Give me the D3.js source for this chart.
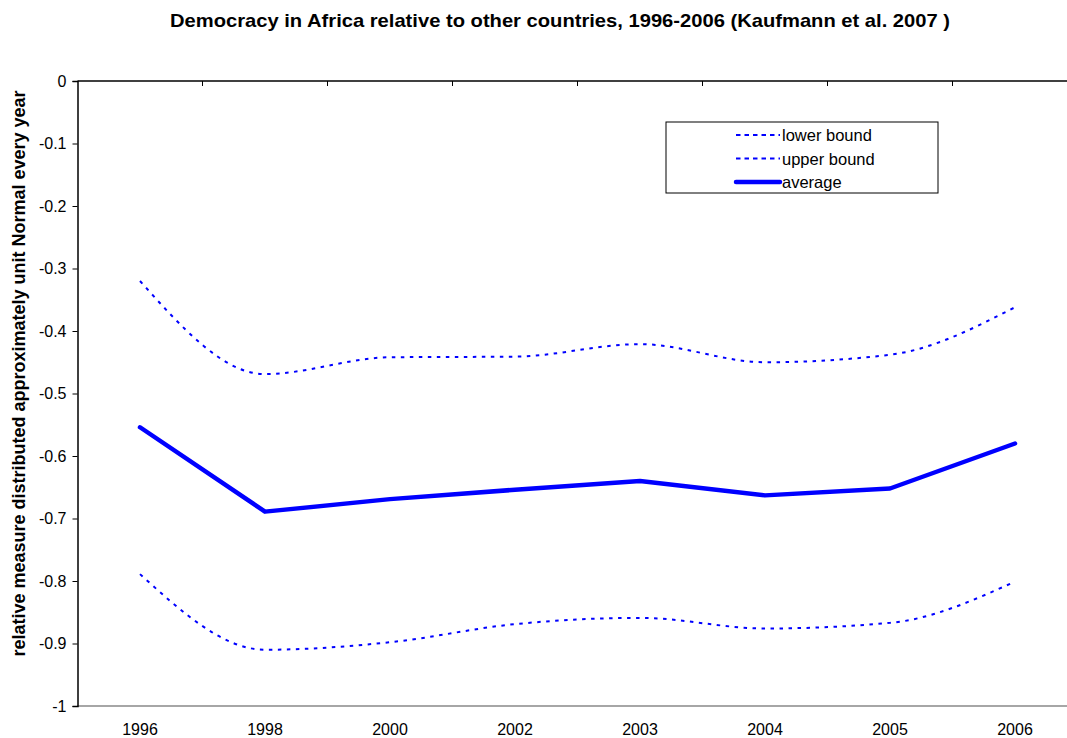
<!DOCTYPE html>
<html>
<head>
<meta charset="utf-8">
<script src="https://cdn.jsdelivr.net/npm/d3@7"></script>
<style>
  body { margin: 0; background: #fff; }
  text { font-family: "Liberation Sans", Arial, sans-serif; }
</style>
</head>
<body>
<div id="chart"></div>
<script>
// data
var years = ["1996", "1998", "2000", "2002", "2003", "2004", "2005", "2006"];
var upperBound = [-0.32, -0.469, -0.442, -0.441, -0.421, -0.450, -0.438, -0.362];
var average    = [-0.554, -0.689, -0.669, -0.654, -0.640, -0.663, -0.652, -0.580];
var lowerBound = [-0.789, -0.910, -0.898, -0.869, -0.859, -0.876, -0.867, -0.801];
var yTicks = [0, -0.1, -0.2, -0.3, -0.4, -0.5, -0.6, -0.7, -0.8, -0.9, -1];
var legendNames = ["lower bound", "upper bound", "average"];

var width = 1067, height = 738;
var margin = {top: 81, left: 77.5, bottom: 32};
var plotW = 1000, plotH = height - margin.top - margin.bottom; // 625

var svg = d3.select("#chart").append("svg")
    .attr("width", width)
    .attr("height", height);

var x = d3.scaleBand()
    .domain(years)
    .range([margin.left, margin.left + plotW]);

var y = d3.scaleLinear()
    .domain([-1, 0])
    .range([margin.top + plotH, margin.top]);

// title
svg.append("text")
    .attr("x", 560)
    .attr("y", 27)
    .attr("text-anchor", "middle")
    .attr("font-weight", "bold")
    .attr("font-size", "18.5px")
    .attr("textLength", 780)
    .attr("lengthAdjust", "spacingAndGlyphs")
    .text("Democracy in Africa relative to other countries, 1996-2006 (Kaufmann et al. 2007 )");

// bottom border of plot (gray)
svg.append("line")
    .attr("x1", margin.left).attr("x2", width)
    .attr("y1", y(-1)).attr("y2", y(-1))
    .attr("stroke", "#888").attr("stroke-width", 1.5);

// y axis
var yAxis = svg.append("g")
    .attr("transform", "translate(" + margin.left + ",0)")
    .call(d3.axisLeft(y).tickValues(yTicks).tickSize(5).tickPadding(6)
        .tickFormat(function(d) { return String(+d.toFixed(1)); }));
yAxis.select(".domain").attr("stroke", "#000").attr("stroke-width", 1.5);
yAxis.selectAll(".tick line").attr("stroke", "#000");
yAxis.selectAll("text").attr("font-size", "16px").attr("fill", "#000")
    .attr("font-family", "Liberation Sans, Arial, sans-serif");

// category axis sits at y = 0 (top), ticks point into the plot
var bounds = years.slice(1).map(function(d) { return x(d); });
var topAxis = svg.append("g");
topAxis.append("line")
    .attr("x1", margin.left).attr("x2", width)
    .attr("y1", y(0)).attr("y2", y(0))
    .attr("stroke", "#000").attr("stroke-width", 1.5);
topAxis.selectAll(".tk").data(bounds).enter().append("line")
    .attr("x1", function(d) { return d; }).attr("x2", function(d) { return d; })
    .attr("y1", y(0)).attr("y2", y(0) + 5)
    .attr("stroke", "#000");

// category labels at bottom
svg.append("g").selectAll("text").data(years).enter().append("text")
    .attr("x", function(d) { return x(d) + x.bandwidth() / 2; })
    .attr("y", 735)
    .attr("text-anchor", "middle")
    .attr("font-size", "16px")
    .text(function(d) { return d; });

// y label
svg.append("text")
    .attr("transform", "translate(25," + (margin.top + plotH / 2 - 20) + ") rotate(-90)")
    .attr("text-anchor", "middle")
    .attr("font-weight", "bold")
    .attr("font-size", "18px")
    .text("relative measure distributed approximately unit Normal every year");

var cx = function(d, i) { return x(years[i]) + x.bandwidth() / 2; };

var smooth = d3.line()
    .x(cx)
    .y(function(d) { return y(d); })
    .curve(d3.curveMonotoneX);

var straight = d3.line()
    .x(cx)
    .y(function(d) { return y(d); });

svg.append("path")
    .datum(lowerBound)
    .attr("d", smooth)
    .attr("fill", "none")
    .attr("stroke", "#0000ff")
    .attr("stroke-width", 2)
    .attr("stroke-dasharray", "3.5,5.5");

svg.append("path")
    .datum(upperBound)
    .attr("d", smooth)
    .attr("fill", "none")
    .attr("stroke", "#0000ff")
    .attr("stroke-width", 2)
    .attr("stroke-dasharray", "3.5,5.5");

svg.append("path")
    .datum(average)
    .attr("d", straight)
    .attr("fill", "none")
    .attr("stroke", "#0000ff")
    .attr("stroke-width", 4.5)
    .attr("stroke-linecap", "round")
    .attr("stroke-linejoin", "round");

// legend
var lg = svg.append("g").attr("transform", "translate(666,122)");
lg.append("rect")
    .attr("width", 272).attr("height", 71)
    .attr("fill", "#fff").attr("stroke", "#000").attr("stroke-width", 1);

var items = lg.selectAll(".item").data(legendNames).enter().append("g")
    .attr("transform", function(d, i) { return "translate(0," + (13 + i * 23.5) + ")"; });

items.append("line")
    .attr("x1", 70).attr("x2", 114)
    .attr("y1", 0).attr("y2", 0)
    .attr("stroke", "#0000ff")
    .attr("stroke-width", function(d, i) { return i === 2 ? 4.5 : 2; })
    .attr("stroke-linecap", function(d, i) { return i === 2 ? "round" : "butt"; })
    .attr("stroke-dasharray", function(d, i) { return i === 2 ? null : "4.5,4"; });

items.append("text")
    .attr("x", 116)
    .attr("y", 6)
    .attr("font-size", "16.5px")
    .text(function(d) { return d; });
</script>
</body>
</html>
